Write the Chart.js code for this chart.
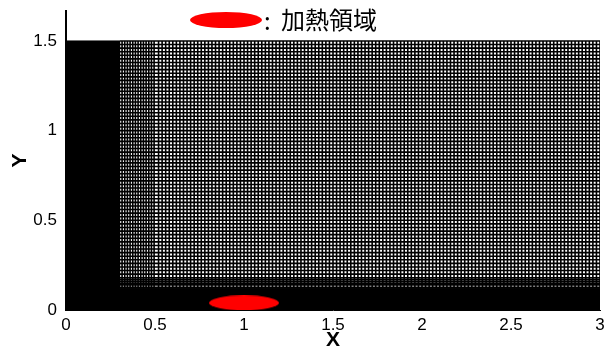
<!DOCTYPE html>
<html>
<head>
<meta charset="utf-8">
<script src="https://cdn.jsdelivr.net/npm/chart.js@4/dist/chart.umd.min.js"></script>
<style>
  html, body { margin: 0; padding: 0; background: #fff; }
  #wrap { width: 611px; height: 353px; }
</style>
</head>
<body>
<div id="wrap"><canvas id="mesh"></canvas></div>
<script>
// mesh lines (domain 0..3 by 0..1.5)
const meshX = [
  0.30,0.315,0.33,0.345,0.36,0.375,0.39,0.405,0.42,0.435,
  0.45,0.465,0.48,0.495,
  0.52,0.54,0.56,0.58,0.60,0.62,0.64,0.66,0.68,0.70,
  0.72,0.74,0.76,0.78,0.80,0.82,0.84,0.86,0.88,0.90,
  0.92,0.94,0.96,0.98,1.00,1.02,1.04,1.06,1.08,1.10,
  1.12,1.14,1.16,1.18,1.20,1.22,1.24,1.26,1.28,1.30,
  1.32,1.34,1.36,1.38,1.40,1.42,1.44,1.46,1.48,1.50,
  1.52,1.54,1.56,1.58,1.60,1.62,1.64,1.66,1.68,1.70,
  1.72,1.74,1.76,1.78,1.80,1.82,1.84,1.86,1.88,1.90,
  1.92,1.94,1.96,1.98,2.00,2.02,2.04,2.06,2.08,2.10,
  2.12,2.14,2.16,2.18,2.20,2.22,2.24,2.26,2.28,2.30,
  2.32,2.34,2.36,2.38,2.40,2.42,2.44,2.46,2.48,2.50,
  2.52,2.54,2.56,2.58,2.60,2.62,2.64,2.66,2.68,2.70,
  2.72,2.74,2.76,2.78,2.80,2.82,2.84,2.86,2.88,2.90,
  2.92,2.94,2.96,2.98,3.00
];
const meshY = [
  0.127,0.14,0.15,0.16,0.17,0.18,
  0.20,0.22,0.24,0.26,0.28,0.30,0.32,0.34,0.36,0.38,
  0.40,0.42,0.44,0.46,0.48,0.50,0.52,0.54,0.56,0.58,
  0.60,0.62,0.64,0.66,0.68,0.70,0.72,0.74,0.76,0.78,
  0.80,0.82,0.84,0.86,0.88,0.90,0.92,0.94,0.96,0.98,
  1.00,1.02,1.04,1.06,1.08,1.10,1.12,1.14,1.16,1.18,
  1.20,1.22,1.24,1.26,1.28,1.30,1.32,1.34,1.36,1.38,
  1.40,1.42,1.44,1.46,1.48,1.50
];
// regions too fine to resolve: they print solid black
const denseLeftX = [0, 0.3];
const denseBottomY = 0.12;
const domainX = [0, 3];
const domainY = [0, 1.5];

// heated region marker
const heatX = [1.0];
const heatY = [0.04];
const heatLabel = "加熱領域";

const xTicks = [0, 0.5, 1, 1.5, 2, 2.5, 3];
const yTicks = [0, 0.5, 1, 1.5];

// red ellipse used as point style
function makeEllipse(w, h) {
  const c = document.createElement("canvas");
  c.width = w;
  c.height = h;
  const g = c.getContext("2d");
  g.fillStyle = "#ff0000";
  g.beginPath();
  g.ellipse(w / 2, h / 2, w / 2, h / 2, 0, 0, Math.PI * 2);
  g.fill();
  return c;
}
const ellipse = makeEllipse(70, 15);
const legendEllipse = makeEllipse(72, 16);

// build line segments separated by gaps
const vertical = [];
meshX.forEach((x) => {
  vertical.push({ x: x, y: denseBottomY }, { x: x, y: domainY[1] }, { x: x, y: null });
});
const horizontal = [];
meshY.forEach((y) => {
  horizontal.push({ x: denseLeftX[1], y: y }, { x: domainX[1], y: y }, { x: null, y: null });
});

const heatLegend = {
  id: "heatLegend",
  afterDraw(chart) {
    const ctx = chart.ctx;
    ctx.save();
    ctx.drawImage(legendEllipse, 190, 12);
    ctx.fillStyle = "#000";
    ctx.textBaseline = "middle";
    ctx.font = '24px "Noto Sans CJK JP"';
    ctx.fillText(":", 264, 21);
    ctx.fillText(heatLabel, 281, 20);
    ctx.restore();
  }
};

const tickFont = { family: "Liberation Sans, Arial", size: 17 };

new Chart(document.getElementById("mesh"), {
  type: "scatter",
  data: {
    datasets: [
      {
        data: heatX.map((x, i) => ({ x: x, y: heatY[i] })),
        pointStyle: ellipse,
        pointRadius: 10
      },
      {
        data: vertical,
        showLine: true,
        spanGaps: false,
        borderColor: "#000",
        borderWidth: 1.6,
        pointRadius: 0
      },
      {
        data: horizontal,
        showLine: true,
        spanGaps: false,
        borderColor: "#000",
        borderWidth: 1.6,
        pointRadius: 0
      },
      {
        data: [{ x: denseLeftX[0], y: domainY[1] }, { x: denseLeftX[1], y: domainY[1] }],
        showLine: true,
        fill: "origin",
        backgroundColor: "#000",
        borderColor: "#000",
        borderWidth: 1,
        pointRadius: 0
      },
      {
        data: [{ x: domainX[0], y: denseBottomY }, { x: domainX[1], y: denseBottomY }],
        showLine: true,
        fill: "origin",
        backgroundColor: "#000",
        borderColor: "#000",
        borderWidth: 1,
        pointRadius: 0
      }
    ]
  },
  options: {
    responsive: true,
    maintainAspectRatio: false,
    animation: false,
    layout: { padding: { top: 9, right: 6, left: 0, bottom: 0 } },
    plugins: {
      legend: { display: false },
      tooltip: { enabled: false }
    },
    scales: {
      x: {
        type: "linear",
        min: 0,
        max: 3,
        afterFit: (s) => { s.height = 43; s.paddingLeft = 0; s.paddingRight = 0; },
        afterBuildTicks: (s) => { s.ticks = xTicks.map((v) => ({ value: v })); },
        grid: { display: false, drawTicks: false },
        border: { display: true, color: "#000", width: 1 },
        ticks: { color: "#000", font: tickFont, padding: 5, maxRotation: 0, callback: (v) => String(v) },
        title: {
          display: true,
          text: "X",
          color: "#000",
          font: { family: "Liberation Sans, Arial", size: 21, weight: "bold" },
          padding: { top: 0, bottom: 0 }
        }
      },
      y: {
        type: "linear",
        min: 0,
        max: 1.667,
        afterFit: (s) => { s.width = 66; s.paddingTop = 0; s.paddingBottom = 0; },
        afterBuildTicks: (s) => { s.ticks = yTicks.map((v) => ({ value: v })); },
        grid: { display: false, drawTicks: false },
        border: { display: true, color: "#000", width: 2 },
        ticks: { color: "#000", font: tickFont, padding: 9, callback: (v) => String(v) },
        title: {
          display: true,
          text: "Y",
          color: "#000",
          font: { family: "Liberation Sans, Arial", size: 21, weight: "bold" },
          padding: { top: 8, bottom: 0 }
        }
      }
    }
  },
  plugins: [heatLegend]
});
</script>
</body>
</html>
